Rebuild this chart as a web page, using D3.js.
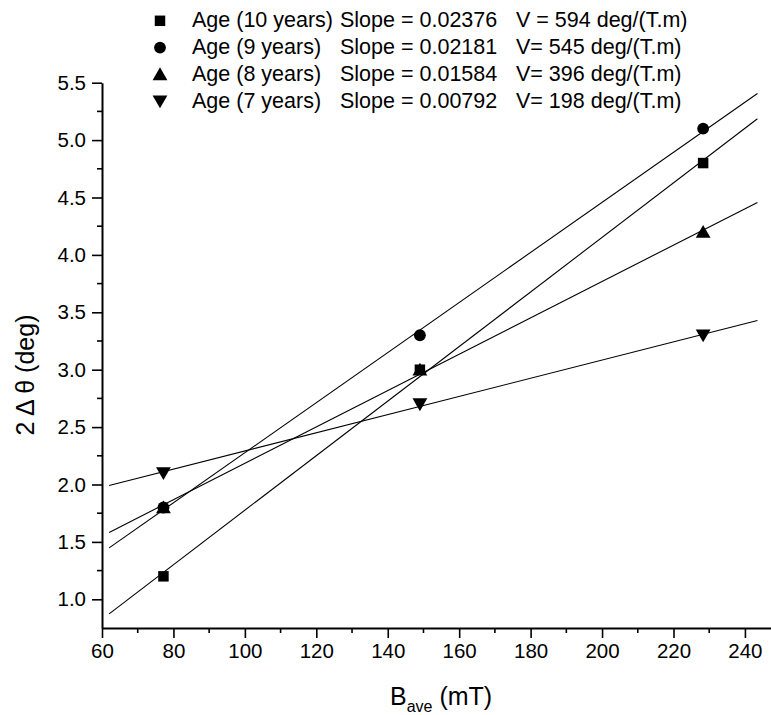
<!DOCTYPE html>
<html>
<head>
<meta charset="utf-8">
<script src="https://cdn.jsdelivr.net/npm/d3@7"></script>
<style>
  html, body { margin: 0; padding: 0; background: #fff; }
  svg { display: block; font-family: "Liberation Sans", Arial, sans-serif; }
</style>
</head>
<body>
<svg id="chart" width="771" height="715"></svg>
<script>
// ---- data ----
const bAve = [77.2, 149, 228.3];                 // x values (mT)
const seriesNames = ["Age (10 years)", "Age (9 years)", "Age (8 years)", "Age (7 years)"];
const seriesSymbols = ["square", "circle", "triangle", "triangleDown"];
const age10 = [1.2, 3.0, 4.8];
const age9  = [1.8, 3.3, 5.1];
const age8  = [1.8, 3.0, 4.2];
const age7  = [2.1, 2.7, 3.3];
const slopes = [0.02376, 0.02181, 0.01584, 0.00792];
const slopeLabels = ["Slope = 0.02376", "Slope = 0.02181", "Slope = 0.01584", "Slope = 0.00792"];
const vLabels = ["V = 594 deg/(T.m)", "V= 545 deg/(T.m)", "V= 396 deg/(T.m)", "V= 198 deg/(T.m)"];
const fitRange = [62, 243.5];
const xTicks = [60, 80, 100, 120, 140, 160, 180, 200, 220, 240];
const yTicks = [1.0, 1.5, 2.0, 2.5, 3.0, 3.5, 4.0, 4.5, 5.0, 5.5];
const xDomain = [60, 247.3];
const yDomain = [0.75, 5.5];

const seriesValues = [age10, age9, age8, age7];

// ---- layout ----
const svg = d3.select("#chart");
const x = d3.scaleLinear().domain(xDomain).range([102, 771]);
const y = d3.scaleLinear().domain(yDomain).range([628, 82.7]);

// fit lines (slope given, passing through the mean point of each series)
const lineGen = d3.line().x(d => x(d[0])).y(d => y(d[1]));
seriesValues.forEach((vals, i) => {
  const mx = d3.mean(bAve), my = d3.mean(vals);
  const pts = fitRange.map(xv => [xv, my + slopes[i] * (xv - mx)]);
  svg.append("path").attr("d", lineGen(pts))
    .attr("fill", "none").attr("stroke", "#000").attr("stroke-width", 1.1);
});

// symbols
const symTypes = {
  square: d3.symbolSquare, circle: d3.symbolCircle,
  triangle: d3.symbolTriangle, triangleDown: d3.symbolTriangle
};
const symSizes = { square: 110, circle: 110, triangle: 95, triangleDown: 95 };
function drawSymbol(g, type, cx, cy) {
  const p = d3.symbol().type(symTypes[type]).size(symSizes[type])();
  const rot = type === "triangleDown" ? " rotate(180)" : "";
  const dy = type === "triangle" ? 1.5 : (type === "triangleDown" ? -1.5 : 0);
  g.append("path").attr("d", p)
    .attr("transform", `translate(${cx},${cy + dy})${rot}`)
    .attr("fill", "#000");
}
const marks = svg.append("g");
seriesValues.forEach((vals, i) => {
  vals.forEach((v, j) => drawSymbol(marks, seriesSymbols[i], x(bAve[j]), y(v)));
});

// axes
const xAxis = svg.append("g").attr("transform", "translate(0,628)")
  .call(d3.axisBottom(x).tickValues(xTicks).tickFormat(d3.format("d")).tickSize(10).tickPadding(5).tickSizeOuter(0));
const xMinor = d3.range(70, 247, 20);
xAxis.selectAll(".minor").data(xMinor).enter().append("line")
  .attr("x1", d => x(d)).attr("x2", d => x(d)).attr("y1", 0).attr("y2", 5)
  .attr("stroke", "#000").attr("stroke-width", 1.6);

const yAxis = svg.append("g").attr("transform", "translate(102,0)")
  .call(d3.axisLeft(y).tickValues(yTicks).tickFormat(d3.format(".1f")).tickSize(10).tickPadding(6).tickSizeOuter(0));
const yMinor = [1.25, 1.75, 2.25, 2.75, 3.25, 3.75, 4.25, 4.75, 5.25];
yAxis.selectAll(".minor").data(yMinor).enter().append("line")
  .attr("y1", d => y(d)).attr("y2", d => y(d)).attr("x1", 0).attr("x2", -5)
  .attr("stroke", "#000").attr("stroke-width", 1.6);

[xAxis, yAxis].forEach(a => {
  a.select(".domain").attr("stroke-width", 2);
  a.selectAll(".tick line").attr("stroke-width", 1.6);
  a.selectAll(".tick text").attr("font-size", 20.5).attr("font-family", "'Liberation Sans', Arial, sans-serif").attr("fill", "#000");
});

// axis titles
const xt = svg.append("text").attr("x", 390).attr("y", 705)
  .attr("font-size", 25).attr("fill", "#000");
xt.append("tspan").text("B");
xt.append("tspan").attr("font-size", 16).attr("dy", 7).text("ave");
xt.append("tspan").attr("dy", -7).text(" (mT)");

svg.append("text")
  .attr("transform", "translate(34,375) rotate(-90)")
  .attr("text-anchor", "middle").attr("font-size", 25).attr("fill", "#000")
  .text("2 \u0394 \u03b8 (deg)");

// legend
const legend = svg.append("g");
seriesNames.forEach((name, i) => {
  const by = 27.3 + 26.8 * i;
  drawSymbol(legend, seriesSymbols[i], 160, by - 6.5);
  legend.append("text").attr("x", 192).attr("y", by).attr("font-size", 21.5).text(name);
  legend.append("text").attr("x", 340).attr("y", by).attr("font-size", 21.5).text(slopeLabels[i]);
  legend.append("text").attr("x", 516).attr("y", by).attr("font-size", 21.5).text(vLabels[i]);
});
</script>
</body>
</html>
